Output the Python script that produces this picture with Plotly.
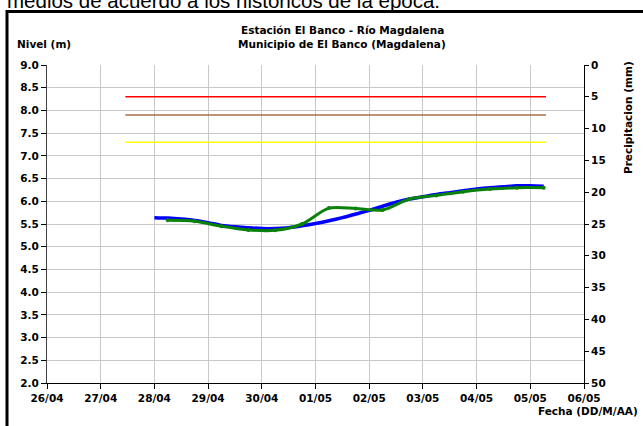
import plotly.graph_objects as go

# ---- data ----
nivel_fechas = [
    "2023-04-28 00:00", "2023-04-28 06:00", "2023-04-28 12:00", "2023-04-28 18:00",
    "2023-04-29 00:00", "2023-04-29 06:00", "2023-04-29 12:00", "2023-04-29 18:00",
    "2023-04-30 00:00", "2023-04-30 06:00", "2023-04-30 12:00", "2023-04-30 18:00",
    "2023-05-01 00:00", "2023-05-01 06:00", "2023-05-01 12:00", "2023-05-01 18:00",
    "2023-05-02 00:00", "2023-05-02 06:00", "2023-05-02 12:00", "2023-05-02 18:00",
    "2023-05-03 00:00", "2023-05-03 06:00", "2023-05-03 12:00", "2023-05-03 18:00",
    "2023-05-04 00:00", "2023-05-04 06:00", "2023-05-04 12:00", "2023-05-04 18:00",
    "2023-05-05 00:00", "2023-05-05 06:00",
]
nivel_observado = [
    5.64, 5.63, 5.61, 5.58,
    5.53, 5.47, 5.44, 5.42,
    5.40, 5.40, 5.42, 5.46,
    5.51, 5.57, 5.64, 5.72,
    5.80, 5.89, 5.98, 6.05,
    6.10, 6.15, 6.19, 6.23,
    6.27, 6.30, 6.32, 6.34,
    6.34, 6.33,
]

verde_fechas = [
    "2023-04-28 06:00", "2023-04-28 18:00", "2023-04-29 06:00", "2023-04-29 18:00",
    "2023-04-30 06:00", "2023-04-30 18:00", "2023-05-01 06:00", "2023-05-01 18:00",
    "2023-05-02 06:00", "2023-05-02 18:00", "2023-05-03 06:00", "2023-05-03 18:00",
    "2023-05-04 06:00", "2023-05-04 18:00", "2023-05-05 06:00",
]
nivel_verde = [
    5.58, 5.56, 5.45, 5.37,
    5.36, 5.50, 5.85, 5.84,
    5.81, 6.05, 6.13, 6.21,
    6.27, 6.30, 6.30,
]

umbral_fechas = ["2023-04-27 11:00", "2023-05-05 07:00"]
umbral_rojo = [8.3, 8.3]
umbral_naranja = [7.9, 7.9]
umbral_amarillo = [7.3, 7.3]

precip_fechas = []
precip_mm = []

x_ticks = ["2023-04-26", "2023-04-27", "2023-04-28", "2023-04-29", "2023-04-30",
           "2023-05-01", "2023-05-02", "2023-05-03", "2023-05-04", "2023-05-05", "2023-05-06"]
x_ticklabels = ["26/04", "27/04", "28/04", "29/04", "30/04",
                "01/05", "02/05", "03/05", "04/05", "05/05", "06/05"]

# ---- layout geometry (pixels) ----
W, H = 643, 426
L, R, T, B = 47, 59, 65, 43
PW = W - L - R
PH = H - T - B


def px(x):
    return (x - L) / PW


def py(y):
    return (H - B - y) / PH


FONT = "DejaVu Sans, Verdana, sans-serif"
BODY_FONT = "Liberation Sans, Arial, sans-serif"
GRID = "#C8C8C8"

fig = go.Figure()

fig.add_trace(go.Scatter(x=umbral_fechas, y=umbral_rojo, mode="lines",
                         line=dict(color="#FF0000", width=1.5), hoverinfo="skip", showlegend=False))
fig.add_trace(go.Scatter(x=umbral_fechas, y=umbral_naranja, mode="lines",
                         line=dict(color="#A86E46", width=1.5), hoverinfo="skip", showlegend=False))
fig.add_trace(go.Scatter(x=umbral_fechas, y=umbral_amarillo, mode="lines",
                         line=dict(color="#FFFF00", width=1.5), hoverinfo="skip", showlegend=False))

fig.add_trace(go.Scatter(x=nivel_fechas, y=nivel_observado, mode="lines",
                         line=dict(color="#0000FF", width=3.5, shape="spline", smoothing=0.8),
                         showlegend=False))
fig.add_trace(go.Scatter(x=verde_fechas, y=nivel_verde, mode="lines+markers",
                         line=dict(color="#0A820A", width=3, shape="spline", smoothing=0.8),
                         marker=dict(size=4, color="#0A820A"), showlegend=False))

fig.add_trace(go.Bar(x=precip_fechas, y=precip_mm, yaxis="y2", marker_color="#0000FF",
                     showlegend=False))

tickfont = dict(family=FONT, size=10.5, color="black", weight="bold")

fig.update_layout(
    width=W, height=H,
    margin=dict(l=L, r=R, t=T, b=B, pad=0),
    paper_bgcolor="white", plot_bgcolor="white",
    showlegend=False,
    xaxis=dict(
        type="date",
        range=["2023-04-26", "2023-05-06"],
        tickmode="array", tickvals=x_ticks, ticktext=x_ticklabels,
        ticks="outside", ticklen=5, tickcolor="black",
        showline=True, linecolor="black", linewidth=1,
        showgrid=True, gridcolor=GRID, gridwidth=1,
        zeroline=False, tickfont=tickfont,
    ),
    yaxis=dict(
        range=[2, 9], dtick=0.5, tick0=2, tickformat=".1f",
        ticks="outside", ticklen=5, tickcolor="black",
        showline=True, linecolor="#404040", linewidth=1,
        showgrid=True, gridcolor=GRID, gridwidth=1,
        zeroline=False, tickfont=tickfont,
    ),
    yaxis2=dict(
        overlaying="y", side="right", anchor="x",
        range=[50, 0], dtick=5, tick0=0,
        ticks="outside", ticklen=4, tickcolor="black",
        showline=True, linecolor="black", linewidth=1,
        showgrid=False, zeroline=False, tickfont=tickfont,
    ),
    yaxis3=dict(
        overlaying="y", side="right", anchor="x",
        range=[50, 0], dtick=5, tick0=0,
        ticks="inside", ticklen=4, tickcolor="black",
        showticklabels=False, showline=False,
        showgrid=False, zeroline=False,
    ),
)

lab = dict(family=FONT, size=10.5, color="black")
annots = [
    dict(text="medios de acuerdo a los históricos de la época.", x=px(5), y=py(14),
         xanchor="left", yanchor="bottom", font=dict(family=BODY_FONT, size=20.5, color="black")),
    dict(text="<b>Estación El Banco - Río Magdalena</b>", x=px(342), y=py(30),
         xanchor="center", yanchor="middle", font=lab),
    dict(text="<b>Municipio de El Banco (Magdalena)</b>", x=px(342), y=py(44),
         xanchor="center", yanchor="middle", font=lab),
    dict(text="<b>Nivel (m)</b>", x=px(15), y=py(44),
         xanchor="left", yanchor="middle", font=lab),
    dict(text="<b>Precipitacion (mm)</b>", x=px(628), y=py(118), textangle=-90,
         xanchor="center", yanchor="middle", font=lab),
    dict(text="<b>Fecha (DD/M/AA)</b>", x=px(640), y=py(411),
         xanchor="right", yanchor="middle", font=lab),
]
for a in annots:
    fig.add_annotation(xref="paper", yref="paper", showarrow=False, **a)

fig.add_shape(type="rect", xref="paper", yref="paper",
              x0=px(7), x1=px(700), y0=py(500), y1=py(11.5),
              line=dict(color="black", width=3), fillcolor="rgba(0,0,0,0)", layer="above")

fig.write_html(
    "out.html",
    config={"displayModeBar": False},
    post_script=["document.body.style.margin='0';document.body.style.overflow='hidden';"],
)
